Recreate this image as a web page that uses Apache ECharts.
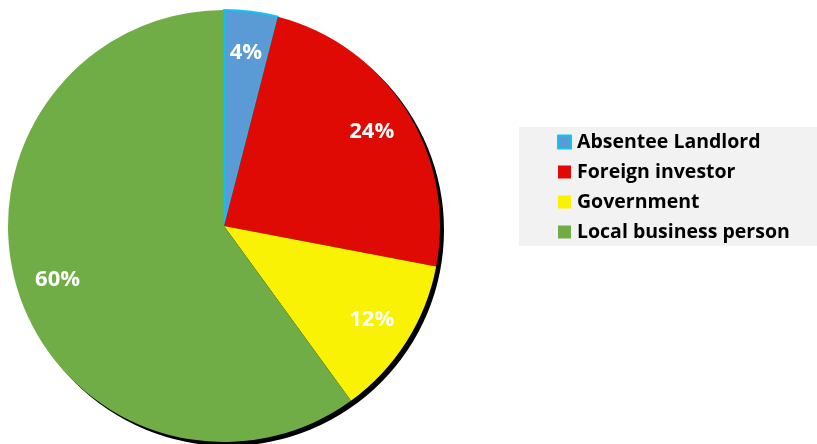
<!DOCTYPE html>
<html>
<head>
<meta charset="utf-8">
<script src="https://cdn.jsdelivr.net/npm/echarts@6/dist/echarts.min.js"></script>
<style>html,body{margin:0;padding:0;background:#fff}#c{width:817px;height:444px}</style>
</head>
<body>
<div id="c"></div>
<script>
const categories = ['Absentee Landlord', 'Foreign investor', 'Government', 'Local business person'];
const values = [4, 24, 12, 60];
const colors = ['#5B9BD5', '#E00A04', '#FAF204', '#70AD47'];

const font = '"Open Sans", "DejaVu Sans", sans-serif';
const data = categories.map((name, i) => ({
  name, value: values[i],
  itemStyle: i === 0 ? {color: colors[i], borderColor: '#12C3F2', borderWidth: 2} : {color: colors[i], borderWidth: 0}
}));
const total = values.reduce((a, b) => a + b, 0);

const chart = echarts.init(document.getElementById('c'), null, {renderer: 'canvas'});
chart.setOption({
  animation: false,
  legend: {
    orient: 'vertical', left: 519, top: 127,
    padding: [4, 60, 3, 38],
    backgroundColor: '#F2F2F2',
    itemWidth: 13, itemHeight: 13, itemGap: 8, icon: 'rect',
    data: categories,
    textStyle: {fontFamily: font, fontWeight: 'bold', fontSize: 19.5, color: '#000', lineHeight: 22, padding: [0, 0, 0, 1]}
  },
  series: [
    {
      type: 'pie', silent: true, center: [228, 230], radius: 216,
      label: {show: false}, labelLine: {show: false},
      itemStyle: {color: '#000'},
      data: [{name: '_shadow', value: total}],
      z: 1
    },
    {
      type: 'pie', center: [224, 226], radius: 216, startAngle: 90, clockwise: true,
      label: {show: false}, labelLine: {show: false},
      data: data, z: 2
    },
    {
      type: 'pie', silent: true, center: [224, 226], radius: [128, 216], startAngle: 90,
      itemStyle: {color: 'rgba(0,0,0,0)', borderWidth: 0},
      labelLine: {show: false},
      label: {
        show: true, position: 'inside', color: '#fff', fontFamily: font, fontWeight: 'bold', fontSize: 22,
        formatter: p => p.value + '%'
      },
      data: categories.map((name, i) => ({name, value: values[i]})),
      z: 3
    }
  ]
});
</script>
</body>
</html>
